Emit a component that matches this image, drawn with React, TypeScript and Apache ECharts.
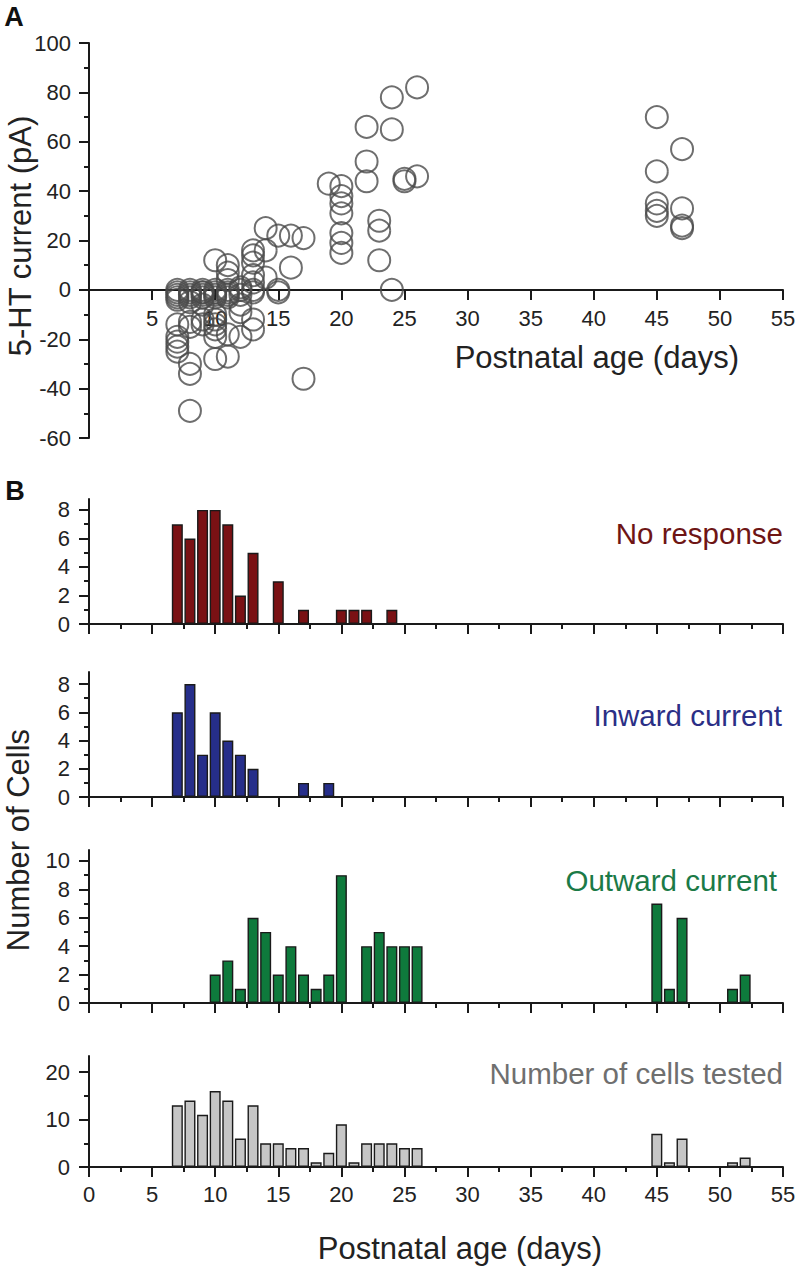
import React, { useEffect, useRef } from "react";
import * as echarts from "echarts";

// ---------- Data ----------
// Panel A: 5-HT current vs postnatal age
const scatterAge = [
  7, 7, 7, 7, 7, 7, 7, 7, 7, 7,
  8, 8, 8, 8, 8, 8, 8, 8, 8, 8,
  9, 9, 9, 9, 9, 9, 9, 9,
  10, 10, 10, 10, 10, 10, 10, 10, 10, 10, 10,
  11, 11, 11, 11, 11, 11, 11, 11, 11,
  12, 12, 12, 12, 12, 12,
  13, 13, 13, 13, 13, 13, 13, 13, 13,
  14, 14, 14,
  15, 15, 15,
  16, 16,
  17, 17,
  19,
  20, 20, 20, 20, 20, 20, 20,
  22, 22, 22,
  23, 23, 23,
  24, 24, 24,
  25, 25,
  26, 26,
  45, 45, 45, 45, 45,
  47, 47, 47, 47,
];
const scatterCurrent = [
  0, -1, -2, -3, -4, -14, -19, -21, -23, -25,
  0, -1, -2, -3, -5, -13, -15, -30, -34, -49,
  0, -1, -2, -3, -1, -6, -12, -14,
  12, 0, -1, -2, -3, -10, -12, -14, -16, -19, -28,
  10, 7, 4, 0, -1, -2, -3, -18, -27,
  1, 0, -2, -6, -9, -19,
  16, 14, 11, 6, 3, 0, -1, -12, -16,
  25, 16, 5,
  22, 0, -1,
  22, 9,
  21, -36,
  43,
  42, 38, 35, 31, 23, 19, 15,
  66, 52, 44,
  28, 24, 12,
  78, 65, 0,
  45, 44,
  82, 46,
  70, 48, 35, 32, 30,
  57, 33, 26, 25,
];

// Panel B histograms
const noResponseDays = [7, 8, 9, 10, 11, 12, 13, 15, 17, 20, 21, 22, 24];
const noResponseCounts = [7, 6, 8, 8, 7, 2, 5, 3, 1, 1, 1, 1, 1];

const inwardDays = [7, 8, 9, 10, 11, 12, 13, 17, 19];
const inwardCounts = [6, 8, 3, 6, 4, 3, 2, 1, 1];

const outwardDays = [10, 11, 12, 13, 14, 15, 16, 17, 18, 19, 20, 22, 23, 24, 25, 26, 45, 46, 47, 51, 52];
const outwardCounts = [2, 3, 1, 6, 5, 2, 4, 2, 1, 2, 9, 4, 5, 4, 4, 4, 7, 1, 6, 1, 2];

const testedDays = [7, 8, 9, 10, 11, 12, 13, 14, 15, 16, 17, 18, 19, 20, 21, 22, 23, 24, 25, 26, 45, 46, 47, 51, 52];
const testedCounts = [13, 14, 11, 16, 14, 6, 13, 5, 5, 4, 4, 1, 3, 9, 1, 5, 5, 5, 4, 4, 7, 1, 6, 1, 2];

// Tick values
const scatterYTicks = [-60, -40, -20, 0, 20, 40, 60, 80, 100];
const countTicksSmall = [0, 2, 4, 6, 8];
const countMinorSmall = [1, 3, 5, 7];
const countTicksOutward = [0, 2, 4, 6, 8, 10];
const countMinorOutward = [1, 3, 5, 7, 9];
const countTicksTested = [0, 10, 20];
const countMinorTested = [5, 15];

// ---------- Styles ----------
const FONT = '"Liberation Sans", Arial, Helvetica, sans-serif';
const AXIS_COLOR = "#1a1a1a";
const LABEL_COLOR = "#222";

const zip = (xs: number[], ys: number[]) => xs.map((x, i) => [x, ys[i]]);

export default function App() {
  const ref = useRef<HTMLDivElement>(null);

  useEffect(() => {
    document.body.style.margin = "0";
    if (!ref.current) return;
    const chart = echarts.init(ref.current, undefined, { renderer: "svg" });

    const left = 89;
    const width = 694;
    const scatterTop = 43;
    const scatterHeight = 395;
    const yMin = scatterYTicks[0];
    const yMax = scatterYTicks[scatterYTicks.length - 1];
    // shift the x axis of panel A up so that it runs along current = 0
    const zeroOffset = -(scatterHeight * (0 - yMin)) / (yMax - yMin);

    const grids = [
      { left, width, top: scatterTop, height: scatterHeight },
      { left, width, top: 499, height: 125 },
      { left, width, top: 672, height: 125 },
      { left, width, top: 850, height: 153 },
      { left, width, top: 1056, height: 111 },
    ];

    const lineStyle = { color: AXIS_COLOR, width: 2 };
    const tickStyle = { color: AXIS_COLOR, width: 2 };

    const histXAxis = (gridIndex: number, showLabels: boolean) => ({
      gridIndex,
      type: "value",
      min: 0,
      max: 55,
      interval: 5,
      axisLine: { show: true, onZero: false, lineStyle },
      axisTick: { show: true, length: 10, lineStyle: tickStyle },
      minorTick: { show: true, splitNumber: 2, length: 5, lineStyle: tickStyle },
      axisLabel: {
        show: showLabels,
        fontSize: 22,
        color: LABEL_COLOR,
        fontFamily: FONT,
        margin: 16,
      },
      splitLine: { show: false },
      minorSplitLine: { show: false },
    });

    const histYAxis = (gridIndex: number, max: number, ticks: number[]) => ({
      gridIndex,
      type: "value",
      position: "left",
      min: 0,
      max,
      axisLine: { show: true, lineStyle },
      axisTick: { show: true, length: 10, lineStyle: tickStyle, customValues: ticks },
      axisLabel: {
        show: true,
        fontSize: 22,
        color: LABEL_COLOR,
        fontFamily: FONT,
        margin: 19,
        customValues: ticks,
      },
      splitLine: { show: false },
    });

    const histMinorYAxis = (gridIndex: number, max: number, ticks: number[]) => ({
      gridIndex,
      type: "value",
      position: "left",
      offset: 0,
      min: 0,
      max,
      axisLine: { show: false },
      axisTick: { show: true, length: 5, lineStyle: tickStyle, customValues: ticks },
      axisLabel: { show: false },
      splitLine: { show: false },
    });

    const barSeries = (axisIndex: number, days: number[], counts: number[], color: string) => ({
      type: "bar",
      xAxisIndex: axisIndex,
      yAxisIndex: axisIndex,
      barWidth: 11,
      data: zip(days, counts),
      itemStyle: { color, borderColor: "#1a1a1a", borderWidth: 1.4 },
      silent: true,
    });

    const titleText = (text: string, x: number, y: number, opts: any = {}) => ({
      type: "text",
      x,
      y,
      rotation: opts.rotation || 0,
      style: {
        text,
        fill: opts.fill || "#222",
        fontSize: opts.fontSize || 31,
        fontFamily: FONT,
        fontWeight: opts.fontWeight || "normal",
        align: opts.align || "center",
        verticalAlign: "middle",
      },
    });

    const option: any = {
      animation: false,
      backgroundColor: "#ffffff",
      grid: grids,
      xAxis: [
        {
          gridIndex: 0,
          type: "value",
          position: "bottom",
          offset: zeroOffset,
          min: 0,
          max: 55,
          interval: 5,
          axisLine: { show: true, onZero: false, lineStyle },
          axisTick: { show: true, length: 10, lineStyle: tickStyle },
          axisLabel: {
            fontSize: 22,
            color: LABEL_COLOR,
            fontFamily: FONT,
            margin: 18,
            formatter: (v: number) => (v === 0 ? "" : String(v)),
          },
          splitLine: { show: false },
        },
        histXAxis(1, false),
        histXAxis(2, false),
        histXAxis(3, false),
        histXAxis(4, true),
      ],
      yAxis: [
        {
          gridIndex: 0,
          type: "value",
          min: yMin,
          max: yMax,
          interval: 20,
          axisLine: { show: true, onZero: false, lineStyle },
          axisTick: { show: true, length: 10, lineStyle: tickStyle },
          minorTick: { show: true, splitNumber: 2, length: 5, lineStyle: tickStyle },
          axisLabel: { fontSize: 22, color: LABEL_COLOR, fontFamily: FONT, margin: 18 },
          splitLine: { show: false },
          minorSplitLine: { show: false },
        },
        histYAxis(1, 8.77, countTicksSmall),
        histYAxis(2, 8.85, countTicksSmall),
        histYAxis(3, 10.77, countTicksOutward),
        histYAxis(4, 23.37, countTicksTested),
        histMinorYAxis(1, 8.77, countMinorSmall),
        histMinorYAxis(2, 8.85, countMinorSmall),
        histMinorYAxis(3, 10.77, countMinorOutward),
        histMinorYAxis(4, 23.37, countMinorTested),
      ],
      series: [
        {
          type: "scatter",
          xAxisIndex: 0,
          yAxisIndex: 0,
          symbol: "circle",
          symbolSize: 22,
          data: zip(scatterAge, scatterCurrent),
          itemStyle: { color: "rgba(0,0,0,0)", borderColor: "#4a4a4a", borderWidth: 2 },
          silent: true,
        },
        barSeries(1, noResponseDays, noResponseCounts, "#7a1114"),
        barSeries(2, inwardDays, inwardCounts, "#262e8a"),
        barSeries(3, outwardDays, outwardCounts, "#0e7a3c"),
        barSeries(4, testedDays, testedCounts, "#c6c6c6"),
      ],
      graphic: [
        titleText("A", 14, 17, { fontWeight: "bold", fontSize: 27, fill: "#111" }),
        titleText("B", 15, 491, { fontWeight: "bold", fontSize: 27, fill: "#111" }),
        titleText("5-HT current (pA)", 20, 236, { rotation: Math.PI / 2 }),
        titleText("Postnatal age (days)", 739, 357, { align: "right" }),
        titleText("Number of Cells", 18, 840, { rotation: Math.PI / 2 }),
        titleText("Postnatal age (days)", 460, 1248),
        titleText("No response", 783, 533, { align: "right", fontSize: 29.5, fill: "#6e1515" }),
        titleText("Inward current", 782, 715, { align: "right", fontSize: 29.5, fill: "#2b2f86" }),
        titleText("Outward current", 777, 880, { align: "right", fontSize: 29.5, fill: "#1b7a47" }),
        titleText("Number of cells tested", 783, 1073, { align: "right", fontSize: 29.5, fill: "#6f6f6f" }),
      ],
    };

    chart.setOption(option);
    return () => {
      chart.dispose();
    };
  }, []);

  return <div ref={ref} style={{ width: 800, height: 1269 }} />;
}
